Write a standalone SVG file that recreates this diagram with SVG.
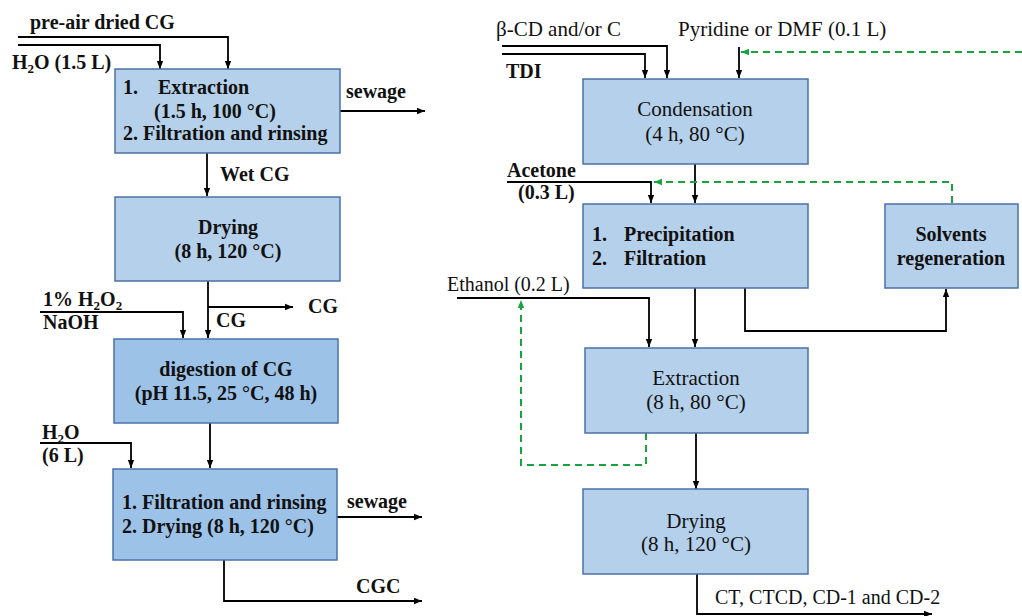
<svg xmlns="http://www.w3.org/2000/svg" width="1022" height="616" viewBox="0 0 1022 616">
<style>
text{font-family:"Liberation Serif","Times New Roman",serif;font-size:20px;fill:#111}
.b{font-weight:bold}
.m{text-anchor:middle}
.r{font-size:21px}
.box{fill:#b5d0ea;stroke:#4a72a8;stroke-width:1.5}
.box2{fill:#9cc2e8;stroke:#4a72a8;stroke-width:1.5}
.ln{fill:none;stroke:#000;stroke-width:1.8}
.ar{fill:none;stroke:#000;stroke-width:1.8;marker-end:url(#ah)}
.gr{fill:none;stroke:#1aa33c;stroke-width:2;stroke-dasharray:7 5}
.ga{fill:none;stroke:#1aa33c;stroke-width:2;stroke-dasharray:7 5;marker-end:url(#gh)}
</style>
<defs>
<marker id="ah" viewBox="0 0 10 10" refX="10" refY="5" markerWidth="8" markerHeight="8" markerUnits="userSpaceOnUse" orient="auto"><path d="M0,1 L10,5 L0,9 z" fill="#000"/></marker>
<marker id="gh" viewBox="0 0 10 10" refX="10" refY="5" markerWidth="8" markerHeight="8" markerUnits="userSpaceOnUse" orient="auto"><path d="M0,1 L10,5 L0,9 z" fill="#1aa33c"/></marker>
</defs>
<rect width="1022" height="616" fill="#fff"/>

<g id="connectors">
<path class="ar" d="M18,37 H228 V69"/>
<path class="ar" d="M18,45 H160 V69"/>
<path class="ar" d="M340,111 H425"/>
<path class="ar" d="M207,153 V196"/>
<path class="ar" d="M208,281 V338"/>
<path class="ar" d="M208,307 H293"/>
<path class="ar" d="M40,312 H183 V338"/>
<path class="ar" d="M210,423 V468"/>
<path class="ar" d="M40,443 H131 V468"/>
<path class="ar" d="M337,517 H422"/>
<path class="ar" d="M224,560 V601 H422"/>

<path class="ar" d="M502,46 H667 V78"/>
<path class="ar" d="M502,54 H645 V78"/>
<path class="ar" d="M739,47 V78"/>
<path class="ga" d="M1022,52 H741"/>
<path class="ar" d="M695,164 V203"/>
<path class="ar" d="M507,182 H651 V203"/>
<path class="ga" d="M952,203 V182 H654"/>
<path class="ar" d="M745,288 V331 H946 V289"/>
<path class="ar" d="M695,288 V347"/>
<path class="ar" d="M457,298 H649 V347"/>
<path class="ga" d="M646,433 V465 H521 V300"/>
<path class="ar" d="M696,433 V489"/>
<path class="ar" d="M697,574 V614 H932"/>
</g>

<g id="labels">
<text class="b" x="30" y="29">pre-air dried CG</text>
<text class="b" x="12" y="69">H<tspan font-size="13" dy="4">2</tspan><tspan dy="-4">O (1.5 L)</tspan></text>
<text class="b" x="346" y="98">sewage</text>
<text class="b" x="220" y="181">Wet CG</text>
<text class="b" x="308" y="313">CG</text>
<text class="b" x="216" y="327">CG</text>
<text class="b" x="43" y="306">1% H<tspan font-size="13" dy="4">2</tspan><tspan dy="-4">O</tspan><tspan font-size="13" dy="4">2</tspan></text>
<text class="b" x="43" y="329">NaOH</text>
<text class="b" x="42" y="439">H<tspan font-size="13" dy="4">2</tspan><tspan dy="-4">O</tspan></text>
<text class="b" x="42" y="462">(6 L)</text>
<text class="b" x="347" y="508">sewage</text>
<text class="b" x="356" y="593">CGC</text>

<text class="r" x="496" y="36">β-CD and/or C</text>
<text class="r" x="678" y="36">Pyridine or DMF (0.1 L)</text>
<text class="b" x="506" y="78">TDI</text>
<text class="b" x="507" y="177">Acetone</text>
<text class="b" x="518" y="199">(0.3 L)</text>
<text x="447" y="291">Ethanol (0.2 L)</text>
<text x="715" y="604" font-size="20.6">CT, CTCD, CD-1 and CD-2</text>
</g>

<g id="n-extraction1">
<rect class="box" x="115" y="69" width="225" height="84"/>
<text class="b" x="123" y="94">1.</text>
<text class="b" x="158" y="94">Extraction</text>
<text class="b" x="154" y="118">(1.5 h, 100 °C)</text>
<text class="b" x="123" y="140">2. Filtration and rinsing</text>
</g>

<g id="n-drying1">
<rect class="box" x="115" y="197" width="225" height="84"/>
<text class="b m" x="228" y="234">Drying</text>
<text class="b m" x="228" y="258">(8 h, 120 °C)</text>
</g>

<g id="n-digestion">
<rect class="box2" x="114" y="339" width="224" height="84"/>
<text class="b m" x="226" y="376">digestion of CG</text>
<text class="b m" x="226" y="400">(pH 11.5, 25 °C, 48 h)</text>
</g>

<g id="n-filtration-drying">
<rect class="box2" x="113" y="469" width="224" height="91"/>
<text class="b" x="122" y="509">1. Filtration and rinsing</text>
<text class="b" x="122" y="533">2. Drying (8 h, 120 °C)</text>
</g>

<g id="n-condensation">
<rect class="box" x="583" y="79" width="225" height="85"/>
<text class="m r" x="695" y="116">Condensation</text>
<text class="m r" x="695" y="141">(4 h, 80 °C)</text>
</g>

<g id="n-precipitation">
<rect class="box" x="583" y="204" width="225" height="84"/>
<text class="b" x="592" y="241">1.</text>
<text class="b" x="624" y="241">Precipitation</text>
<text class="b" x="592" y="265">2.</text>
<text class="b" x="624" y="265">Filtration</text>
</g>

<g id="n-solvents">
<rect class="box" x="885" y="204" width="133" height="84"/>
<text class="b m" x="951" y="241">Solvents</text>
<text class="b m" x="951" y="265">regeneration</text>
</g>

<g id="n-extraction2">
<rect class="box" x="585" y="348" width="223" height="85"/>
<text class="m r" x="696" y="385">Extraction</text>
<text class="m r" x="696" y="409">(8 h, 80 °C)</text>
</g>

<g id="n-drying2">
<rect class="box" x="583" y="489" width="225" height="85"/>
<text class="m r" x="696" y="528">Drying</text>
<text class="m r" x="696" y="551">(8 h, 120 °C)</text>
</g>
</svg>
